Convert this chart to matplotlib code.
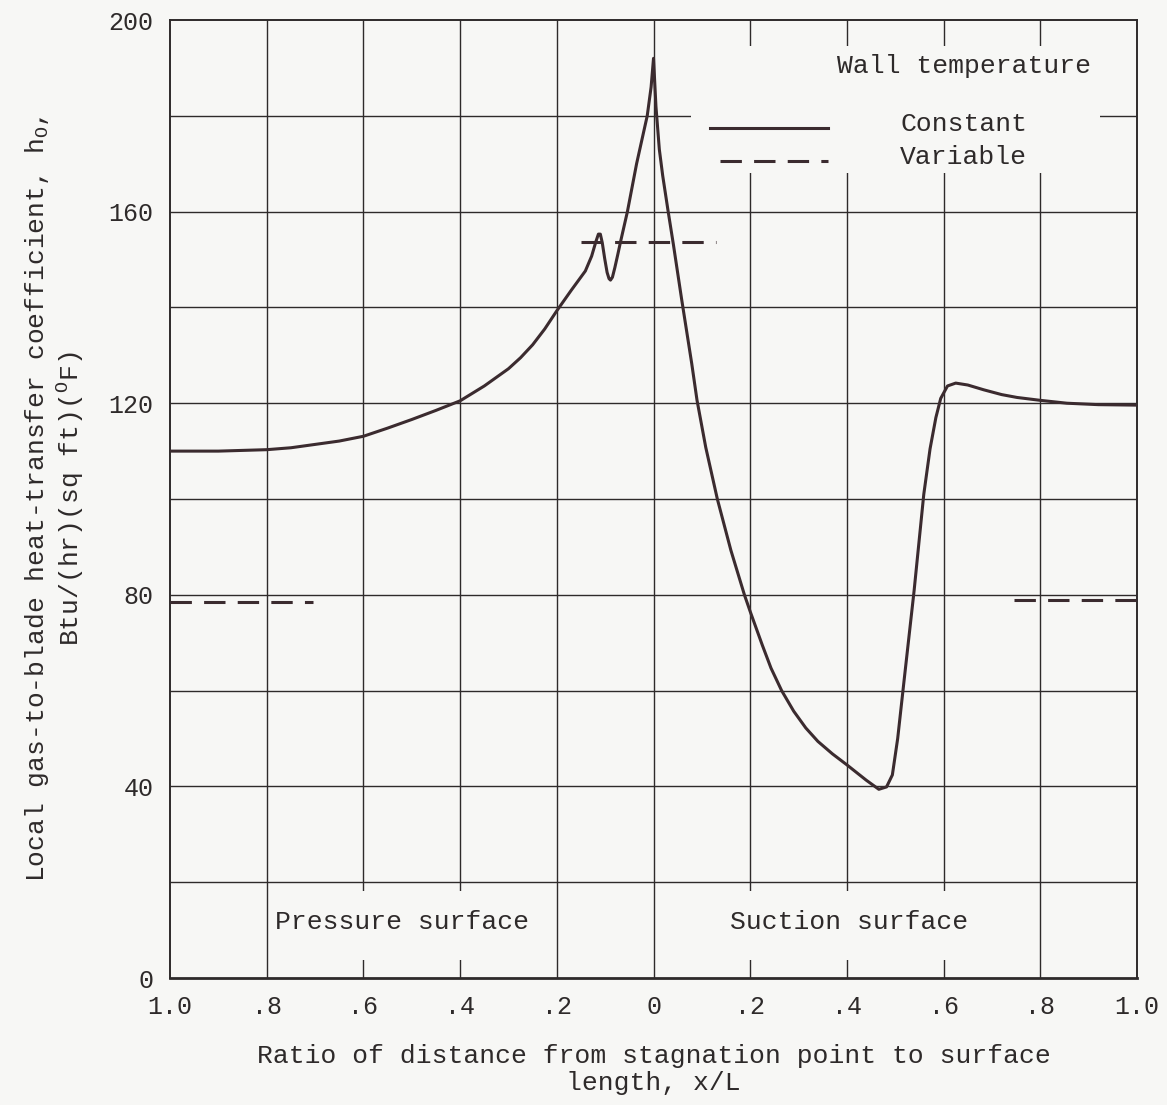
import matplotlib
matplotlib.use("Agg")
import matplotlib.pyplot as plt  # noqa: E402
from matplotlib.patches import Rectangle  # noqa: E402

# Local gas-to-blade heat-transfer coefficient along the blade surface.
# x/L is negative on the pressure surface, positive on the suction surface.
const_x = [-1.0, -0.9, -0.8, -0.75, -0.7, -0.65, -0.6, -0.55, -0.5, -0.45,
           -0.4, -0.35, -0.3, -0.275, -0.25, -0.225, -0.2, -0.17, -0.141,
           -0.128, -0.119, -0.114, -0.110, -0.106, -0.101, -0.096, -0.092,
           -0.089, -0.085, -0.080, -0.074, -0.068, -0.054, -0.035, -0.013,
           -0.005, 0.0, 0.005, 0.012, 0.019, 0.030, 0.041, 0.058, 0.079, 0.090,
           0.108, 0.132, 0.16, 0.188, 0.2, 0.225, 0.243, 0.265, 0.29, 0.315,
           0.34, 0.37, 0.4, 0.44, 0.466, 0.482, 0.494, 0.505, 0.518, 0.539,
           0.559, 0.572, 0.584, 0.594, 0.608, 0.625, 0.65, 0.683, 0.72, 0.752,
           0.8, 0.855, 0.92, 1.0]
const_h = [110.0, 110.0, 110.3, 110.7, 111.4, 112.1, 113.1, 114.8, 116.6, 118.5,
           120.5, 123.6, 127.2, 129.5, 132.2, 135.5, 139.3, 143.6, 147.6,
           150.7, 153.8, 155.3, 155.3, 153.5, 150.2, 147.3, 146.0,
           145.7, 146.3, 148.3, 151.0, 153.8, 160.0, 170.0, 180.0,
           186.0, 192.0, 182.0, 173.0, 167.5, 160.2, 153.2, 141.8, 128.3, 120.6,
           110.8, 100.0, 89.3, 80.0, 76.5, 69.5, 64.7, 60.0, 55.7, 52.2,
           49.4, 46.8, 44.5, 41.3, 39.4, 39.9, 42.4, 50.0, 61.9, 80.9,
           101.0, 110.5, 117.0, 121.0, 123.6, 124.2, 123.8, 122.8, 121.8, 121.2,
           120.6, 120.0, 119.7, 119.6]

# Variable wall temperature: three short level segments
var_pres_x = [-1.0, -0.705]
var_pres_h = [78.5, 78.5]
var_le_x = [-0.151, 0.13]
var_le_h = [153.6, 153.6]
var_suct_x = [0.745, 1.0]
var_suct_h = [79.0, 79.0]

xticks = [-1.0, -0.8, -0.6, -0.4, -0.2, 0.0, 0.2, 0.4, 0.6, 0.8, 1.0]
xticklabels = ["1.0", ".8", ".6", ".4", ".2", "0", ".2", ".4", ".6", ".8", "1.0"]
yticks = [0, 40, 80, 120, 160, 200]
ygrid = [20, 40, 60, 80, 100, 120, 140, 160, 180]

BG = "#f7f7f5"
INK = "#2e2a2a"
CURVE = "#3b2b2f"

plt.rcParams["font.family"] = ["Liberation Mono", "DejaVu Sans"]
plt.rcParams["mathtext.fontset"] = "custom"
plt.rcParams["mathtext.rm"] = "Liberation Mono"

fig = plt.figure(figsize=(11.67, 11.05), dpi=100, facecolor=BG)
ax = fig.add_axes([0.1457, 0.1149, 0.8286, 0.8670], facecolor=BG)
ax.set_xlim(-1.0, 1.0)
ax.set_ylim(0, 200)

# ruled grid
for gx in xticks[1:-1]:
    ax.axvline(gx, color=INK, lw=1.0, zorder=1)
for gy in ygrid:
    ax.axhline(gy, color=INK, lw=1.0, zorder=1)

# lettering areas knock the grid out
ax.add_patch(Rectangle((0.078, 168), 0.846, 26.6, facecolor=BG, edgecolor="none", zorder=1.5))
ax.add_patch(Rectangle((-0.74, 3.8), 0.47, 14.4, facecolor=BG, edgecolor="none", zorder=1.5))
ax.add_patch(Rectangle((0.16, 3.8), 0.50, 14.4, facecolor=BG, edgecolor="none", zorder=1.5))

ax.plot(const_x, const_h, color=CURVE, lw=2.2, zorder=3, solid_joinstyle="round")
for vx, vh in ((var_pres_x, var_pres_h), (var_le_x, var_le_h), (var_suct_x, var_suct_h)):
    ax.plot(vx, vh, color=CURVE, lw=2.2, dashes=(7, 4), zorder=3)

# key
ax.text(0.821, 0.952, "Wall temperature", transform=ax.transAxes, ha="center",
        va="center", fontsize=19, color=INK, zorder=4)
ax.plot([0.558, 0.680], [0.887, 0.887], transform=ax.transAxes, color=CURVE, lw=2.2, zorder=3)
ax.plot([0.569, 0.680], [0.853, 0.853], transform=ax.transAxes, color=CURVE, lw=2.2,
        dashes=(7, 4), zorder=3)
ax.text(0.755, 0.891, "Constant", transform=ax.transAxes, ha="left", va="center",
        fontsize=19, color=INK, zorder=4)
ax.text(0.755, 0.857, "Variable", transform=ax.transAxes, ha="left", va="center",
        fontsize=19, color=INK, zorder=4)

ax.text(-0.52, 11.6, "Pressure surface", ha="center", va="center", fontsize=19, color=INK, zorder=4)
ax.text(0.405, 11.6, "Suction surface", ha="center", va="center", fontsize=19, color=INK, zorder=4)

ax.set_xticks(xticks)
ax.set_xticklabels(xticklabels)
ax.set_yticks(yticks)
ax.tick_params(length=0, labelsize=18, colors=INK, pad=12)
ax.tick_params(axis="y", pad=12)
for s in ax.spines.values():
    s.set_color(INK)
    s.set_linewidth(1.4)
ax.spines["bottom"].set_linewidth(2.0)

ax.set_xlabel("Ratio of distance from stagnation point to surface\nlength, x/L",
              fontsize=19, color=INK, labelpad=18, linespacing=1.15)
ax.set_ylabel("Local gas-to-blade heat-transfer coefficient, h$_\\mathrm{O}$,\n"
              "Btu/(hr)(sq ft)($^\\mathrm{O}$F)",
              fontsize=19, color=INK, labelpad=16, linespacing=1.15)

fig.savefig("out.png", dpi=100, facecolor=BG)
